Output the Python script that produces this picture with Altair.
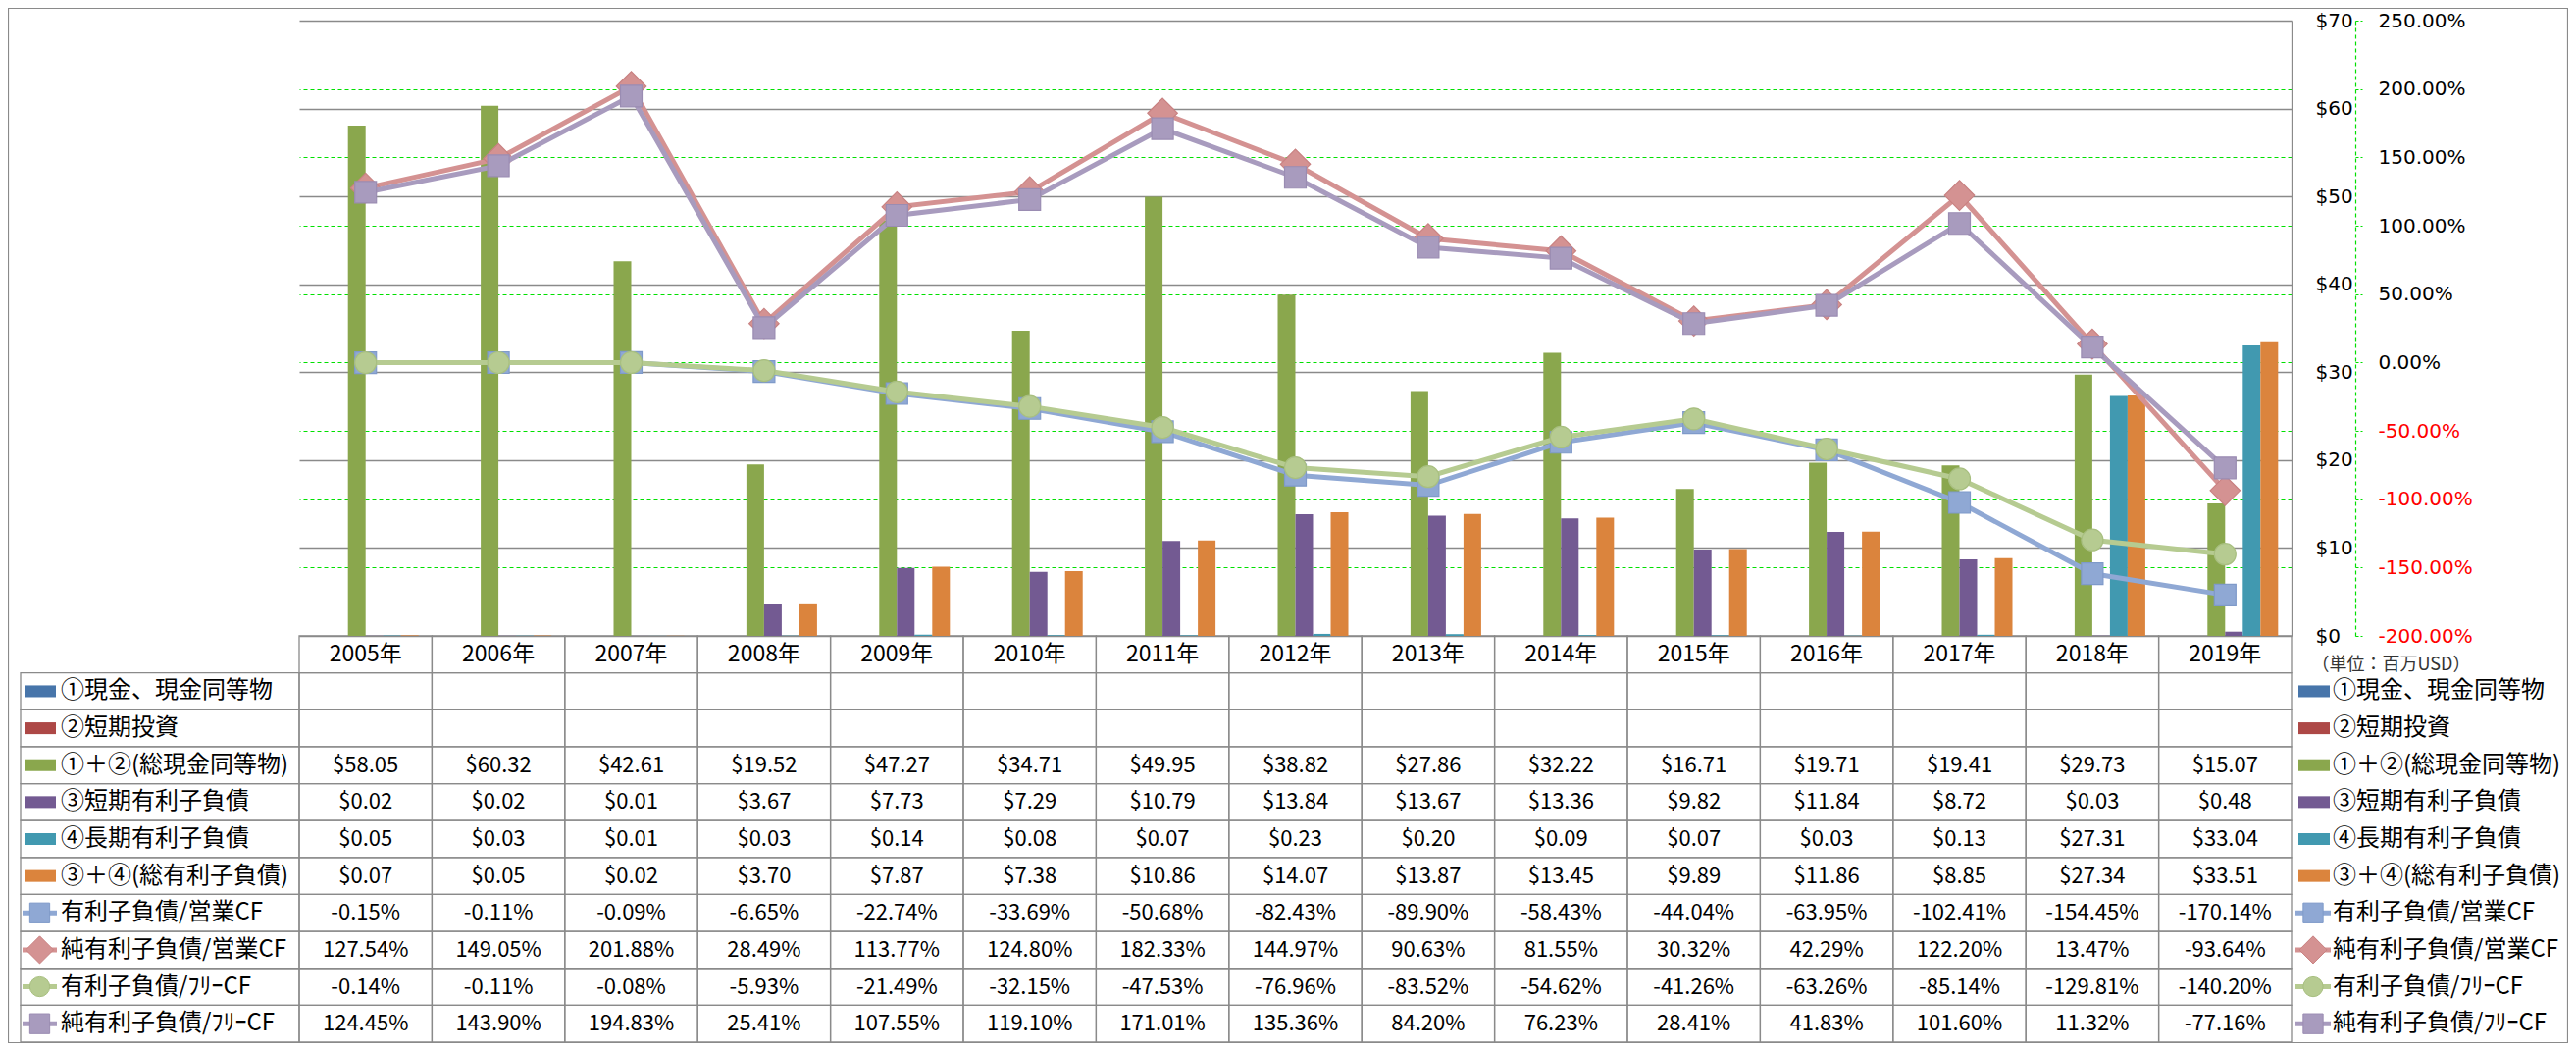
import altair as alt
import pandas as pd

FONT = "Noto Sans CJK JP"
AXFONT = "DejaVu Sans"

# ---------------- data ----------------
years = ["2005年", "2006年", "2007年", "2008年", "2009年", "2010年", "2011年", "2012年",
         "2013年", "2014年", "2015年", "2016年", "2017年", "2018年", "2019年"]

cash = [None] * 15
short_invest = [None] * 15
total_cash = [58.05, 60.32, 42.61, 19.52, 47.27, 34.71, 49.95, 38.82, 27.86, 32.22, 16.71, 19.71, 19.41, 29.73, 15.07]
short_debt = [0.02, 0.02, 0.01, 3.67, 7.73, 7.29, 10.79, 13.84, 13.67, 13.36, 9.82, 11.84, 8.72, 0.03, 0.48]
long_debt = [0.05, 0.03, 0.01, 0.03, 0.14, 0.08, 0.07, 0.23, 0.20, 0.09, 0.07, 0.03, 0.13, 27.31, 33.04]
total_debt = [0.07, 0.05, 0.02, 3.70, 7.87, 7.38, 10.86, 14.07, 13.87, 13.45, 9.89, 11.86, 8.85, 27.34, 33.51]

debt_ocf = [-0.15, -0.11, -0.09, -6.65, -22.74, -33.69, -50.68, -82.43, -89.90, -58.43, -44.04, -63.95, -102.41, -154.45, -170.14]
netdebt_ocf = [127.54, 149.05, 201.88, 28.49, 113.77, 124.80, 182.33, 144.97, 90.63, 81.55, 30.32, 42.29, 122.20, 13.47, -93.64]
debt_fcf = [-0.14, -0.11, -0.08, -5.93, -21.49, -32.15, -47.53, -76.96, -83.52, -54.62, -41.26, -63.26, -85.14, -129.81, -140.20]
netdebt_fcf = [124.45, 143.90, 194.83, 25.41, 107.55, 119.10, 171.01, 135.36, 84.20, 76.23, 28.41, 41.83, 101.60, 11.32, -77.16]

bar_names = ["①現金、現金同等物", "②短期投資", "①＋②(総現金同等物)",
             "③短期有利子負債", "④長期有利子負債", "③＋④(総有利子負債)"]
bar_values = [cash, short_invest, total_cash, short_debt, long_debt, total_debt]
bar_colors = ["#4775AA", "#AD4846", "#8AA74D", "#735A92", "#4199B0", "#DB843D"]

line_names = ["有利子負債/営業CF", "純有利子負債/営業CF", "有利子負債/ﾌﾘｰCF", "純有利子負債/ﾌﾘｰCF"]
line_values = [debt_ocf, netdebt_ocf, debt_fcf, netdebt_fcf]
line_colors = ["#8FA8D4", "#D49292", "#B6CB91", "#A89BBE"]
line_stroke = ["#7F9AC9", "#C98282", "#A8BF80", "#9A8CB2"]
line_shapes = ["square", "diamond", "circle", "square"]
line_sizes = [484, 930, 484, 484]

# ---------------- layout ----------------
W = 2031          # plot width (year columns)
PH = 627          # plot height
TH = 414          # table height (header + 10 rows)
H = PH + TH
NROW = 11

X = alt.X("year:N", scale=alt.Scale(domain=years, paddingInner=0, paddingOuter=0), axis=None)
tbl_scale = alt.Scale(domain=[0, NROW], range=[PH, H], nice=False, zero=False)
pct_scale = alt.Scale(domain=[-200, 250], range=[PH, 0], nice=False, zero=False)
usd_scale = alt.Scale(domain=[0, 70], range=[PH, 0], nice=False, zero=True)
GRAY = "#8A8A8A"
GREEN = "#00E000"

layers = []

# ---------------- table cells ----------------
cells = pd.DataFrame([{"year": y, "r0": r, "r1": r + 1} for y in years for r in range(NROW)])
layers.append(
    alt.Chart(cells).mark_rect(fillOpacity=0, stroke=GRAY, strokeWidth=1.3).encode(
        x=X,
        y=alt.Y("r0:Q", scale=tbl_scale, axis=None),
        y2="r1:Q",
    )
)
label_cells = pd.DataFrame([{"r0": r, "r1": r + 1} for r in range(1, NROW)])
layers.append(
    alt.Chart(label_cells).mark_rect(fillOpacity=0, stroke=GRAY, strokeWidth=1.3).encode(
        x=alt.value(-284), x2=alt.value(0),
        y=alt.Y("r0:Q", scale=tbl_scale, axis=None),
        y2="r1:Q",
    )
)

# header years
hdr = pd.DataFrame({"year": years, "r": [0.5] * len(years)})
layers.append(
    alt.Chart(hdr).mark_text(font=FONT, fontSize=23, color="#000000", baseline="middle").encode(
        x=X, y=alt.Y("r:Q", scale=tbl_scale, axis=None), text="year:N"
    )
)

# table values
rows = []
for i, (name, arr) in enumerate(zip(bar_names, bar_values)):
    for y, v in zip(years, arr):
        if v is not None:
            rows.append({"year": y, "r": i + 1.5, "txt": f"${v:.2f}"})
for j, (name, arr) in enumerate(zip(line_names, line_values)):
    for y, v in zip(years, arr):
        rows.append({"year": y, "r": j + 7.5, "txt": f"{v:.2f}%"})
vals = pd.DataFrame(rows)
layers.append(
    alt.Chart(vals).mark_text(font=FONT, fontSize=22, color="#000000", baseline="middle").encode(
        x=X, y=alt.Y("r:Q", scale=tbl_scale, axis=None), text="txt:N"
    )
)

# row labels (left column) and legend (right)
all_names = bar_names + line_names
lab = pd.DataFrame({"name": all_names, "r": [i + 1.5 for i in range(10)]})
for xpos in (-243, W + 42):
    layers.append(
        alt.Chart(lab).mark_text(font=FONT, fontSize=24, color="#000000", align="left", baseline="middle").encode(
            x=alt.value(xpos), y=alt.Y("r:Q", scale=tbl_scale, axis=None), text="name:N"
        )
    )

sw = pd.DataFrame({"name": bar_names, "r0": [i + 1.34 for i in range(6)], "r1": [i + 1.66 for i in range(6)]})
for x0, x1 in ((-280, -248), (W + 7, W + 39)):
    layers.append(
        alt.Chart(sw).mark_rect().encode(
            x=alt.value(x0), x2=alt.value(x1),
            y=alt.Y("r0:Q", scale=tbl_scale, axis=None), y2="r1:Q",
            color=alt.Color("name:N", scale=alt.Scale(domain=bar_names, range=bar_colors), legend=None),
        )
    )

for j in range(4):
    kd = pd.DataFrame({"name": [line_names[j]], "r": [j + 7.5]})
    for x0, x1, xc in ((-282, -247, -264.5), (W + 4, W + 40, W + 22)):
        layers.append(
            alt.Chart(kd).mark_rule(color=line_colors[j], strokeWidth=5).encode(
                x=alt.value(x0), x2=alt.value(x1), y=alt.Y("r:Q", scale=tbl_scale, axis=None)
            )
        )
        layers.append(
            alt.Chart(kd).mark_point(filled=True, opacity=1, shape=line_shapes[j],
                                     size=line_sizes[j] * 0.85, color=line_colors[j],
                                     stroke=line_stroke[j], strokeWidth=1).encode(
                x=alt.value(xc), y=alt.Y("r:Q", scale=tbl_scale, axis=None)
            )
        )

# ---------------- bars ----------------
bar_df = pd.DataFrame([{"year": y, "series": s, "value": v}
                       for s, arr in zip(bar_names, bar_values) for y, v in zip(years, arr)])
usd_axis = alt.Axis(
    orient="right", values=list(range(0, 80, 10)), labelExpr="'$' + datum.value",
    grid=True, gridColor=GRAY, gridWidth=1.3,
    domain=True, domainColor=GRAY, domainWidth=1.3,
    ticks=False, tickSize=0, labelPadding=24, labelAlign="left", labelBaseline="middle",
    labelFont=AXFONT, labelFontSize=20, labelColor="#000000",
    title="（単位：百万USD）", titleAngle=0, titleX=20, titleY=PH + 29,
    titleAlign="left", titleBaseline="middle", titleFont=FONT, titleFontSize=18,
    titleFontWeight="normal", titleColor="#333333",
)
layers.append(
    alt.Chart(bar_df).mark_bar().encode(
        x=X,
        xOffset=alt.XOffset("series:N", scale=alt.Scale(domain=bar_names, paddingInner=0, paddingOuter=0.76)),
        y=alt.Y("value:Q", scale=usd_scale, axis=usd_axis),
        color=alt.Color("series:N", scale=alt.Scale(domain=bar_names, range=bar_colors), legend=None),
    )
)

# ---------------- lines ----------------
pct_axis = alt.Axis(
    orient="right", offset=65, values=list(range(-200, 300, 50)),
    labelExpr="(datum.value < 0 ? '-' : '') + format(abs(datum.value), '.2f') + '%'",
    labelColor={"condition": {"test": "datum.value < 0", "value": "#FF0000"}, "value": "#000000"},
    grid=True, gridColor=GREEN, gridDash=[4, 3], gridWidth=1.2,
    gridOpacity={"condition": {"test": "datum.value >= 250 || datum.value <= -200", "value": 0}, "value": 1},
    domain=True, domainColor=GREEN, domainDash=[4, 3], domainWidth=1.2,
    ticks=True, tickColor=GREEN, tickDash=[3, 2], tickSize=7, tickWidth=1.2,
    labelPadding=16, labelAlign="left", labelBaseline="middle",
    labelFont=AXFONT, labelFontSize=20, title="",
)
for j in range(4):
    ld = pd.DataFrame({"year": years, "pct": line_values[j]})
    ax = pct_axis if j == 0 else None
    layers.append(
        alt.Chart(ld).mark_line(color=line_colors[j], strokeWidth=5).encode(
            x=X, y=alt.Y("pct:Q", scale=pct_scale, axis=ax)
        )
    )
    layers.append(
        alt.Chart(ld).mark_point(filled=True, opacity=1, shape=line_shapes[j], size=line_sizes[j],
                                 color=line_colors[j], stroke=line_stroke[j], strokeWidth=1.2).encode(
            x=X, y=alt.Y("pct:Q", scale=pct_scale, axis=None)
        )
    )

# ---------------- outer border ----------------
layers.append(
    alt.Chart(pd.DataFrame({"k": [0]})).mark_rect(fillOpacity=0, stroke=GRAY, strokeWidth=1.2).encode(
        x=alt.value(-296.5), x2=alt.value(W + 281.5), y=alt.value(-12.5), y2=alt.value(H + 0.5)
    )
)

chart = alt.layer(*layers).resolve_scale(y="independent", color="independent").properties(
    width=W, height=H,
    autosize=alt.AutoSizeParams(type="none"),
    padding={"left": 297, "right": 282, "top": 13, "bottom": 1},
    background="white",
).configure_view(strokeWidth=0)

chart.save("out.html", embed_options={"renderer": "svg", "actions": False})
